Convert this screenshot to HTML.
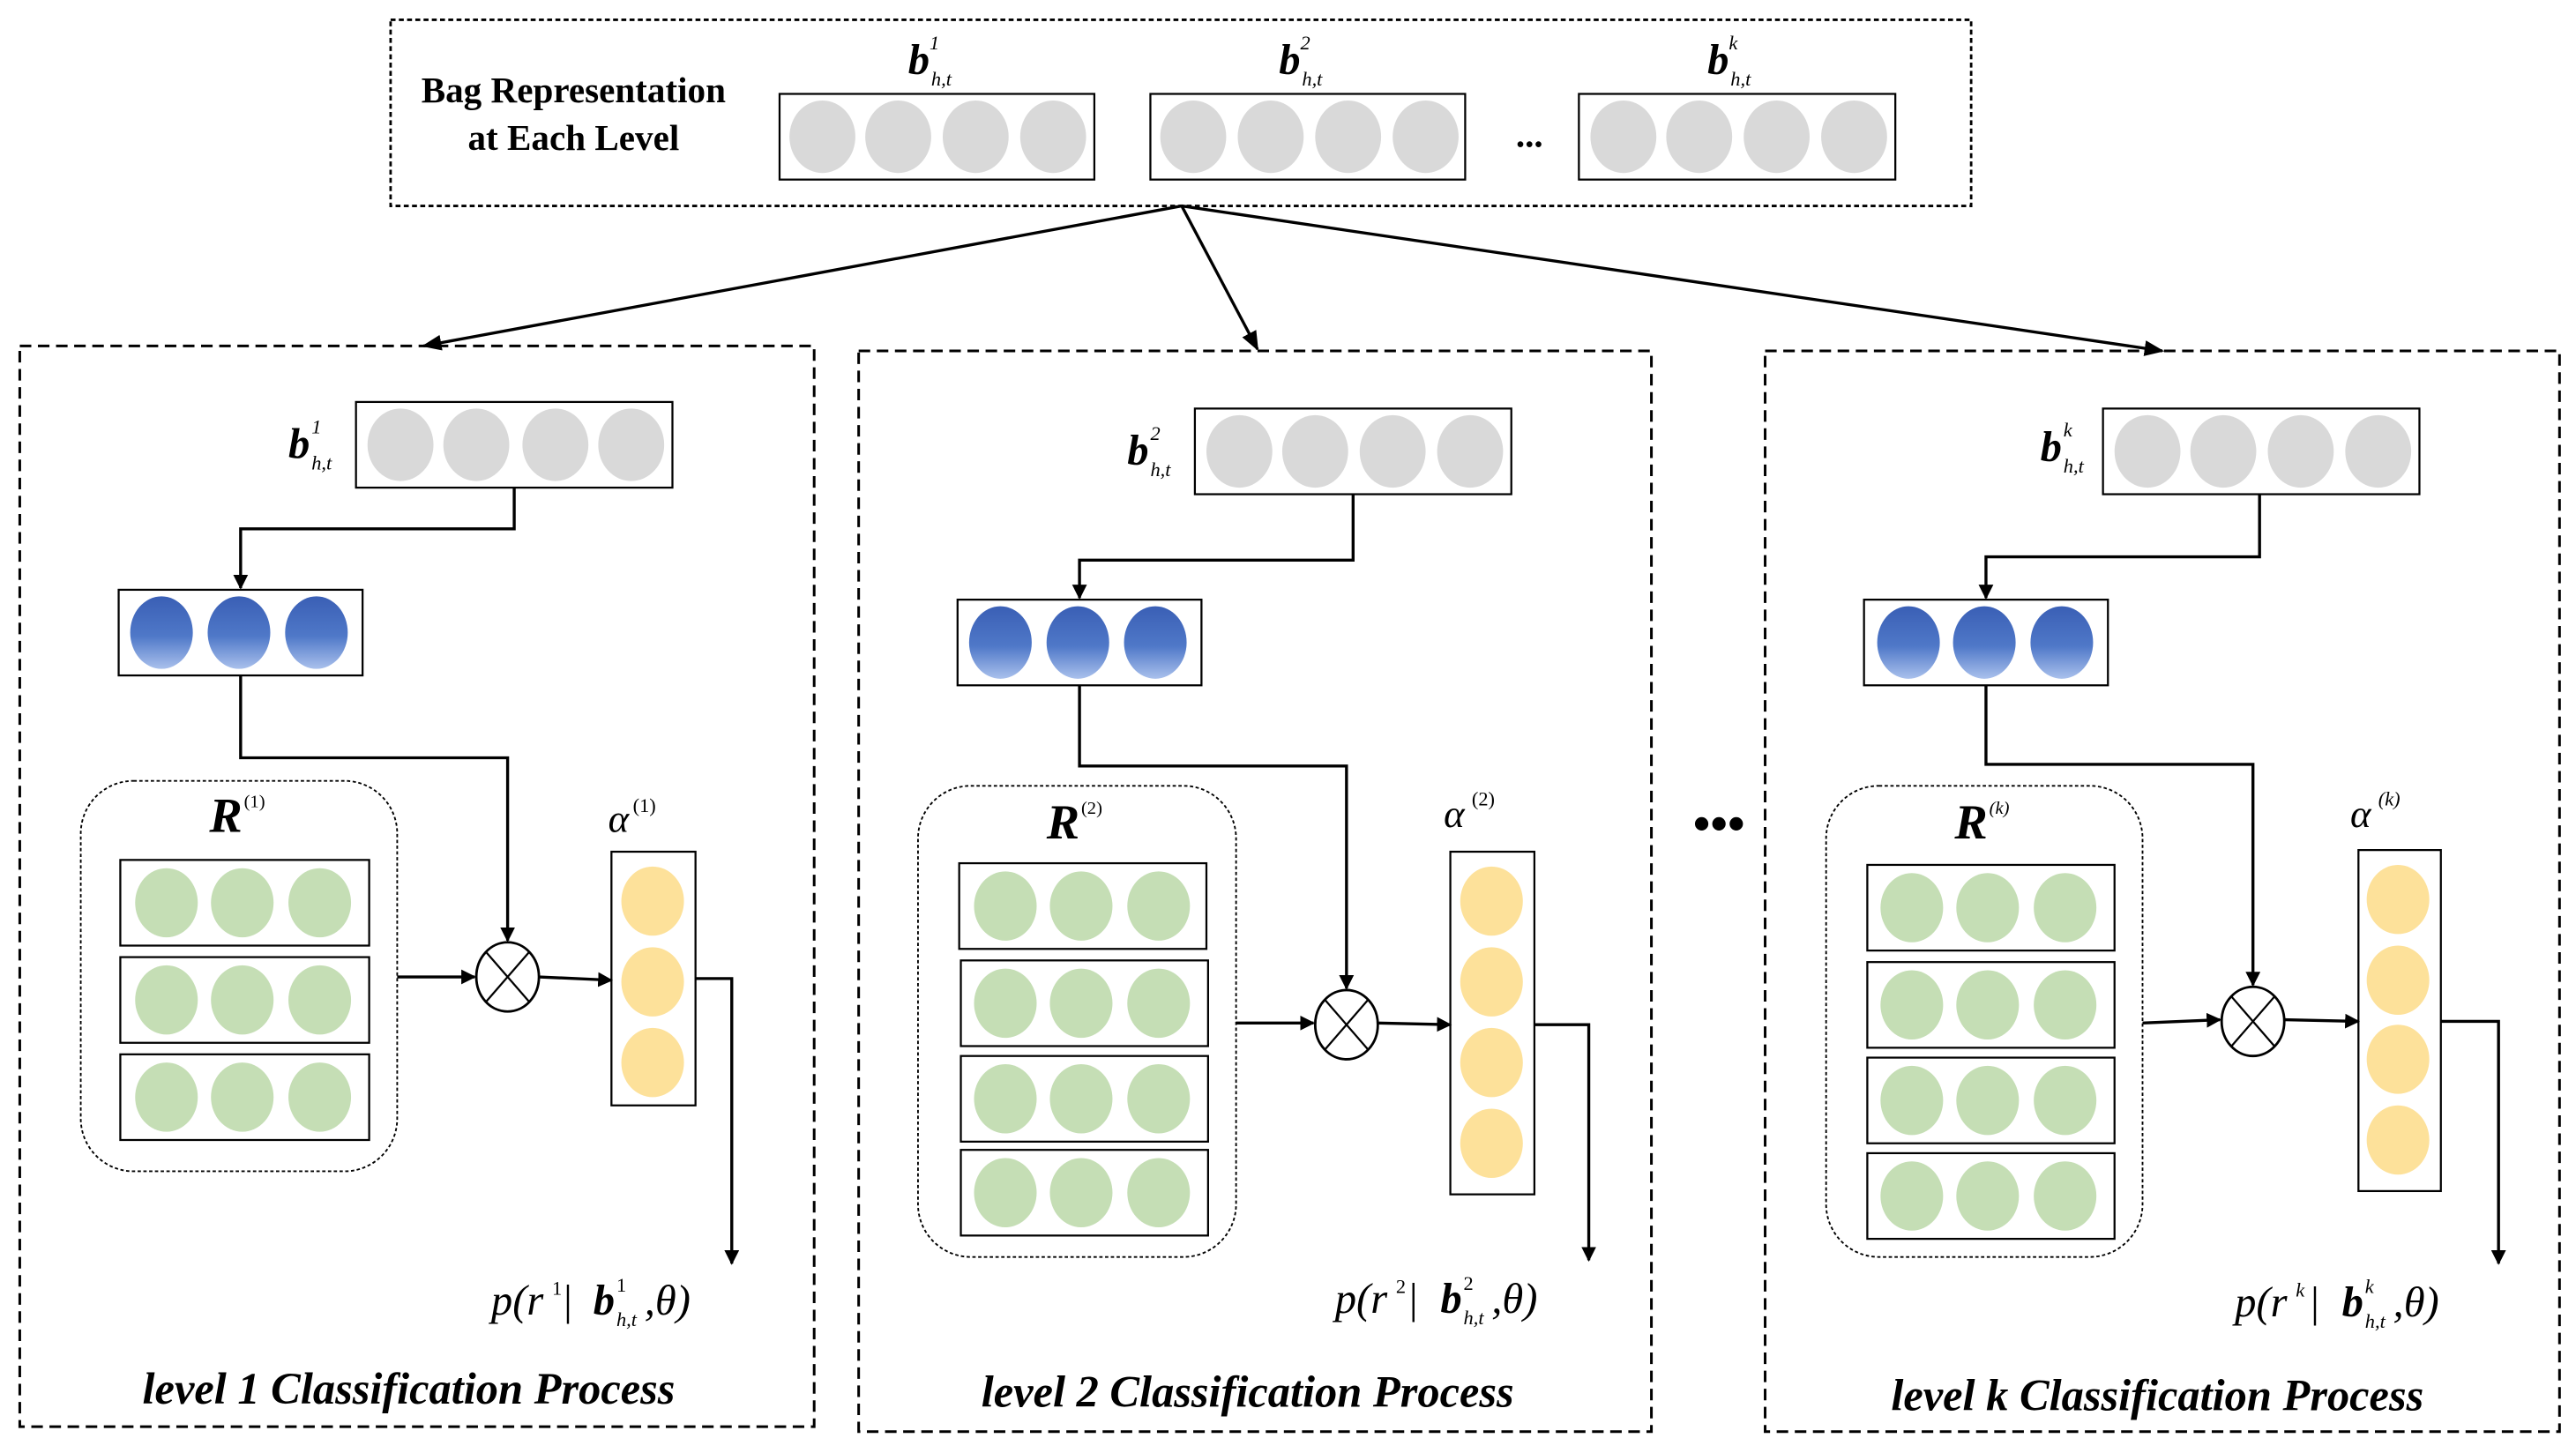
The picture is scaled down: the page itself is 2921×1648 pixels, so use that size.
<!DOCTYPE html>
<html><head><meta charset="utf-8"><style>
html,body{margin:0;padding:0;background:#fff}
svg{display:block}
text{font-family:"Liberation Serif",serif}
</style></head><body>
<svg width="2921" height="1648" viewBox="0 0 1563 882" preserveAspectRatio="none" xmlns="http://www.w3.org/2000/svg">
<defs>
<linearGradient id="bl" x1="0" y1="0" x2="0" y2="1">
<stop offset="0" stop-color="#3a5fb5"/><stop offset="0.55" stop-color="#4f78c8"/><stop offset="1" stop-color="#a9c0ec"/></linearGradient>
<marker id="ar" viewBox="0 0 10 10" refX="9" refY="5" markerWidth="9" markerHeight="9" markerUnits="userSpaceOnUse" orient="auto"><path d="M0,0 L10,5 L0,10 z" fill="#000"/></marker>
<marker id="ar2" viewBox="0 0 10 10" refX="9" refY="5" markerWidth="12" markerHeight="12" markerUnits="userSpaceOnUse" orient="auto"><path d="M0,1 L10,5 L0,9 z" fill="#000"/></marker>
</defs>
<g fill="none" stroke="#000">
<rect x="237" y="12" width="959" height="113" stroke-dasharray="3,2" stroke-width="1.5"/>
<rect x="473" y="57" width="191" height="52" stroke-width="1.2"/>
<rect x="698" y="57" width="191" height="52" stroke-width="1.2"/>
<rect x="958" y="57" width="192" height="52" stroke-width="1.2"/>
<g stroke-width="1.8" marker-end="url(#ar2)">
<line x1="717" y1="125" x2="257" y2="210"/>
<line x1="717" y1="125" x2="763" y2="212"/>
<line x1="717" y1="125" x2="1312" y2="213"/>
</g>
<g stroke-dasharray="7,4" stroke-width="1.6">
<rect x="12" y="210" width="482" height="656"/>
<rect x="521" y="213" width="481" height="656"/>
<rect x="1071" y="213" width="482" height="656"/>
</g>
</g>
<g fill="#d9d9d9">
<ellipse cx="499" cy="83" rx="20" ry="22"/><ellipse cx="545" cy="83" rx="20" ry="22"/><ellipse cx="592" cy="83" rx="20" ry="22"/><ellipse cx="639" cy="83" rx="20" ry="22"/>
<ellipse cx="724" cy="83" rx="20" ry="22"/><ellipse cx="771" cy="83" rx="20" ry="22"/><ellipse cx="818" cy="83" rx="20" ry="22"/><ellipse cx="865" cy="83" rx="20" ry="22"/>
<ellipse cx="985" cy="83" rx="20" ry="22"/><ellipse cx="1031" cy="83" rx="20" ry="22"/><ellipse cx="1078" cy="83" rx="20" ry="22"/><ellipse cx="1125" cy="83" rx="20" ry="22"/>
</g>
<g font-weight="bold" font-size="22" text-anchor="middle">
<text x="348" y="62">Bag Representation</text>
<text x="348" y="91">at Each Level</text>
</g>
<text x="928" y="89" font-size="22" font-weight="bold" text-anchor="middle">...</text>
<g font-size="26" font-weight="bold" font-style="italic">
<text x="551" y="45">b</text><text x="776" y="45">b</text><text x="1036" y="45">b</text>
</g>
<g font-size="12" font-style="italic">
<text x="564" y="30">1</text><text x="565" y="52">h,t</text>
<text x="789" y="30">2</text><text x="790" y="52">h,t</text>
<text x="1049" y="30">k</text><text x="1050" y="52">h,t</text>
</g>
<text x="1043" y="510" font-size="30" font-weight="bold" text-anchor="middle">•••</text>

<g>
<g fill="none" stroke="#000" stroke-width="1.2">
<rect x="216" y="244" width="192" height="52"/>
<rect x="72" y="358" width="148" height="52"/>
<rect x="49" y="474" width="192" height="237" rx="32" stroke-dasharray="2,1.5" stroke-width="1"/>
<rect x="73" y="522" width="151" height="52"/><rect x="73" y="581" width="151" height="52"/><rect x="73" y="640" width="151" height="52"/>
<rect x="371" y="517" width="51" height="154"/>
<polyline points="312,296 312,321 146,321 146,357" stroke-width="1.8" marker-end="url(#ar)"/>
<polyline points="146,410 146,460 308,460 308,571" stroke-width="1.8" marker-end="url(#ar)"/>
<line x1="241" y1="593" x2="288" y2="593" stroke-width="1.8" marker-end="url(#ar)"/>
<line x1="327" y1="593" x2="371" y2="595" stroke-width="1.8" marker-end="url(#ar)"/>
<polyline points="422,594 444,594 444,767" stroke-width="1.8" marker-end="url(#ar)"/>
<ellipse cx="308" cy="593" rx="19" ry="21" stroke-width="1.5"/>
<line x1="295" y1="578" x2="321" y2="608"/><line x1="321" y1="578" x2="295" y2="608"/>
</g>
<g fill="#d9d9d9"><ellipse cx="243" cy="270" rx="20" ry="22"/><ellipse cx="289" cy="270" rx="20" ry="22"/><ellipse cx="337" cy="270" rx="20" ry="22"/><ellipse cx="383" cy="270" rx="20" ry="22"/></g>
<g fill="url(#bl)"><ellipse cx="98" cy="384" rx="19" ry="22"/><ellipse cx="145" cy="384" rx="19" ry="22"/><ellipse cx="192" cy="384" rx="19" ry="22"/></g>
<g fill="#c5deb5">
<ellipse cx="101" cy="548" rx="19" ry="21"/><ellipse cx="147" cy="548" rx="19" ry="21"/><ellipse cx="194" cy="548" rx="19" ry="21"/>
<ellipse cx="101" cy="607" rx="19" ry="21"/><ellipse cx="147" cy="607" rx="19" ry="21"/><ellipse cx="194" cy="607" rx="19" ry="21"/>
<ellipse cx="101" cy="666" rx="19" ry="21"/><ellipse cx="147" cy="666" rx="19" ry="21"/><ellipse cx="194" cy="666" rx="19" ry="21"/>
</g>
<g fill="#fde19a"><ellipse cx="396" cy="547" rx="19" ry="21"/><ellipse cx="396" cy="596" rx="19" ry="21"/><ellipse cx="396" cy="645" rx="19" ry="21"/></g>
<text x="175" y="278" font-size="26" font-weight="bold" font-style="italic">b</text>
<text x="189" y="263" font-size="12" font-style="italic">1</text><text x="189" y="285" font-size="12" font-style="italic">h,t</text>
<text x="127" y="505" font-size="30" font-weight="bold" font-style="italic">R</text><text x="148" y="490" font-size="11">(1)</text>
<text x="369" y="505" font-size="24" font-style="italic">α</text><text x="384" y="493" font-size="12">(1)</text>
<text x="298" y="798" font-size="26" font-style="italic">p(r</text><text x="335" y="786" font-size="12">1</text>
<text x="342" y="798" font-size="26">|</text><text x="360" y="798" font-size="26" font-weight="bold" font-style="italic">b</text>
<text x="374" y="784" font-size="12">1</text><text x="374" y="805" font-size="12" font-style="italic">h,t</text>
<text x="391" y="798" font-size="26" font-style="italic">,θ)</text>
<text x="248" y="852" font-size="27" font-weight="bold" font-style="italic" text-anchor="middle">level 1 Classification Process</text>
</g>

<g>
<g fill="none" stroke="#000" stroke-width="1.2">
<rect x="725" y="248" width="192" height="52"/>
<rect x="581" y="364" width="148" height="52"/>
<rect x="557" y="477" width="193" height="286" rx="32" stroke-dasharray="2,1.5" stroke-width="1"/>
<rect x="582" y="524" width="150" height="52"/><rect x="583" y="583" width="150" height="52"/><rect x="583" y="641" width="150" height="52"/><rect x="583" y="698" width="150" height="52"/>
<rect x="880" y="517" width="51" height="208"/>
<polyline points="821,300 821,340 655,340 655,363" stroke-width="1.8" marker-end="url(#ar)"/>
<polyline points="655,416 655,465 817,465 817,600" stroke-width="1.8" marker-end="url(#ar)"/>
<line x1="750" y1="621" x2="797" y2="621" stroke-width="1.8" marker-end="url(#ar)"/>
<line x1="836" y1="621" x2="880" y2="622" stroke-width="1.8" marker-end="url(#ar)"/>
<polyline points="931,622 964,622 964,765" stroke-width="1.8" marker-end="url(#ar)"/>
<ellipse cx="817" cy="622" rx="19" ry="21" stroke-width="1.5"/>
<line x1="804" y1="607" x2="830" y2="637"/><line x1="830" y1="607" x2="804" y2="637"/>
</g>
<g fill="#d9d9d9"><ellipse cx="752" cy="274" rx="20" ry="22"/><ellipse cx="798" cy="274" rx="20" ry="22"/><ellipse cx="845" cy="274" rx="20" ry="22"/><ellipse cx="892" cy="274" rx="20" ry="22"/></g>
<g fill="url(#bl)"><ellipse cx="607" cy="390" rx="19" ry="22"/><ellipse cx="654" cy="390" rx="19" ry="22"/><ellipse cx="701" cy="390" rx="19" ry="22"/></g>
<g fill="#c5deb5">
<ellipse cx="610" cy="550" rx="19" ry="21"/><ellipse cx="656" cy="550" rx="19" ry="21"/><ellipse cx="703" cy="550" rx="19" ry="21"/>
<ellipse cx="610" cy="609" rx="19" ry="21"/><ellipse cx="656" cy="609" rx="19" ry="21"/><ellipse cx="703" cy="609" rx="19" ry="21"/>
<ellipse cx="610" cy="667" rx="19" ry="21"/><ellipse cx="656" cy="667" rx="19" ry="21"/><ellipse cx="703" cy="667" rx="19" ry="21"/>
<ellipse cx="610" cy="724" rx="19" ry="21"/><ellipse cx="656" cy="724" rx="19" ry="21"/><ellipse cx="703" cy="724" rx="19" ry="21"/>
</g>
<g fill="#fde19a"><ellipse cx="905" cy="547" rx="19" ry="21"/><ellipse cx="905" cy="596" rx="19" ry="21"/><ellipse cx="905" cy="645" rx="19" ry="21"/><ellipse cx="905" cy="694" rx="19" ry="21"/></g>
<text x="684" y="282" font-size="26" font-weight="bold" font-style="italic">b</text>
<text x="698" y="267" font-size="12" font-style="italic">2</text><text x="698" y="289" font-size="12" font-style="italic">h,t</text>
<text x="635" y="509" font-size="30" font-weight="bold" font-style="italic">R</text><text x="656" y="494" font-size="11">(2)</text>
<text x="876" y="502" font-size="24" font-style="italic">α</text><text x="893" y="489" font-size="12">(2)</text>
<text x="810" y="797" font-size="26" font-style="italic">p(r</text><text x="847" y="785" font-size="12">2</text>
<text x="855" y="797" font-size="26">|</text><text x="874" y="797" font-size="26" font-weight="bold" font-style="italic">b</text>
<text x="888" y="783" font-size="12">2</text><text x="888" y="804" font-size="12" font-style="italic">h,t</text>
<text x="905" y="797" font-size="26" font-style="italic">,θ)</text>
<text x="757" y="854" font-size="27" font-weight="bold" font-style="italic" text-anchor="middle">level 2 Classification Process</text>
</g>

<g>
<g fill="none" stroke="#000" stroke-width="1.2">
<rect x="1276" y="248" width="192" height="52"/>
<rect x="1131" y="364" width="148" height="52"/>
<rect x="1108" y="477" width="192" height="286" rx="32" stroke-dasharray="2,1.5" stroke-width="1"/>
<rect x="1133" y="525" width="150" height="52"/><rect x="1133" y="584" width="150" height="52"/><rect x="1133" y="642" width="150" height="52"/><rect x="1133" y="700" width="150" height="52"/>
<rect x="1431" y="516" width="50" height="207"/>
<polyline points="1371,300 1371,338 1205,338 1205,363" stroke-width="1.8" marker-end="url(#ar)"/>
<polyline points="1205,416 1205,464 1367,464 1367,598" stroke-width="1.8" marker-end="url(#ar)"/>
<line x1="1300" y1="621" x2="1347" y2="619" stroke-width="1.8" marker-end="url(#ar)"/>
<line x1="1386" y1="619" x2="1431" y2="620" stroke-width="1.8" marker-end="url(#ar)"/>
<polyline points="1481,620 1516,620 1516,767" stroke-width="1.8" marker-end="url(#ar)"/>
<ellipse cx="1367" cy="620" rx="19" ry="21" stroke-width="1.5"/>
<line x1="1354" y1="605" x2="1380" y2="635"/><line x1="1380" y1="605" x2="1354" y2="635"/>
</g>
<g fill="#d9d9d9"><ellipse cx="1303" cy="274" rx="20" ry="22"/><ellipse cx="1349" cy="274" rx="20" ry="22"/><ellipse cx="1396" cy="274" rx="20" ry="22"/><ellipse cx="1443" cy="274" rx="20" ry="22"/></g>
<g fill="url(#bl)"><ellipse cx="1158" cy="390" rx="19" ry="22"/><ellipse cx="1204" cy="390" rx="19" ry="22"/><ellipse cx="1251" cy="390" rx="19" ry="22"/></g>
<g fill="#c5deb5">
<ellipse cx="1160" cy="551" rx="19" ry="21"/><ellipse cx="1206" cy="551" rx="19" ry="21"/><ellipse cx="1253" cy="551" rx="19" ry="21"/>
<ellipse cx="1160" cy="610" rx="19" ry="21"/><ellipse cx="1206" cy="610" rx="19" ry="21"/><ellipse cx="1253" cy="610" rx="19" ry="21"/>
<ellipse cx="1160" cy="668" rx="19" ry="21"/><ellipse cx="1206" cy="668" rx="19" ry="21"/><ellipse cx="1253" cy="668" rx="19" ry="21"/>
<ellipse cx="1160" cy="726" rx="19" ry="21"/><ellipse cx="1206" cy="726" rx="19" ry="21"/><ellipse cx="1253" cy="726" rx="19" ry="21"/>
</g>
<g fill="#fde19a"><ellipse cx="1455" cy="546" rx="19" ry="21"/><ellipse cx="1455" cy="595" rx="19" ry="21"/><ellipse cx="1455" cy="643" rx="19" ry="21"/><ellipse cx="1455" cy="692" rx="19" ry="21"/></g>
<text x="1238" y="280" font-size="26" font-weight="bold" font-style="italic">b</text>
<text x="1252" y="265" font-size="12" font-style="italic">k</text><text x="1252" y="287" font-size="12" font-style="italic">h,t</text>
<text x="1186" y="509" font-size="30" font-weight="bold" font-style="italic">R</text><text x="1207" y="494" font-size="11" font-style="italic">(k)</text>
<text x="1426" y="502" font-size="24" font-style="italic">α</text><text x="1443" y="489" font-size="12" font-style="italic">(k)</text>
<text x="1356" y="799" font-size="26" font-style="italic">p(r</text><text x="1393" y="787" font-size="12" font-style="italic">k</text>
<text x="1402" y="799" font-size="26">|</text><text x="1421" y="799" font-size="26" font-weight="bold" font-style="italic">b</text>
<text x="1435" y="785" font-size="12" font-style="italic">k</text><text x="1435" y="806" font-size="12" font-style="italic">h,t</text>
<text x="1452" y="799" font-size="26" font-style="italic">,θ)</text>
<text x="1309" y="856" font-size="27" font-weight="bold" font-style="italic" text-anchor="middle">level k Classification Process</text>
</g>
</svg>
</body></html>
